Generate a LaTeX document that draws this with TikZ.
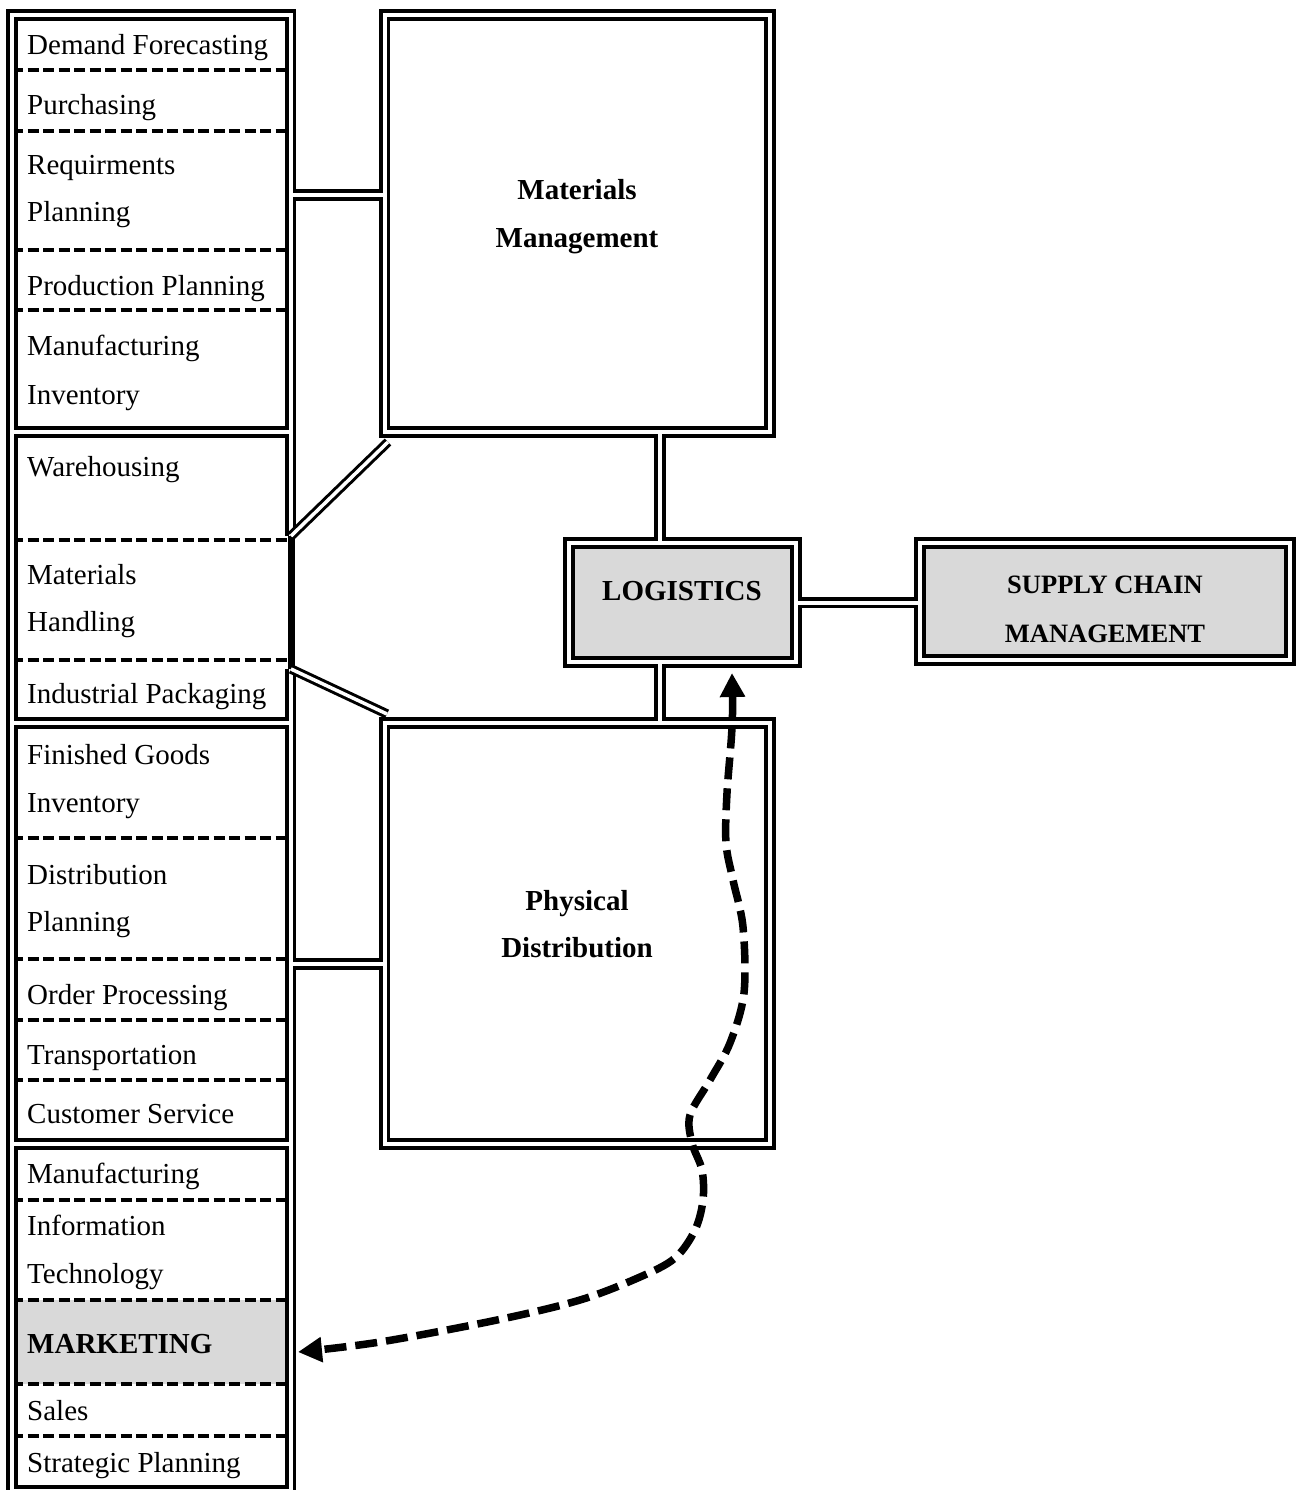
\documentclass[tikz,border=0pt]{standalone}
\usepackage{fontspec}
\setmainfont{Liberation Serif}
\usetikzlibrary{arrows.meta}
\definecolor{boxgray}{RGB}{217,217,217}
\begin{document}
\begin{tikzpicture}[x=1pt,y=-1pt,
  region/.style={rectangle, draw=none, inner sep=0pt, outer sep=0pt},
  frame/.style={draw=black, double=white, double distance=4pt, line width=3.8pt, line cap=butt},
  sepline/.style={draw=black, line width=3.5pt, dash pattern=on 11pt off 4.5pt},
  item/.style={anchor=base west, inner sep=0pt, font=\fontsize{29pt}{34pt}\selectfont},
  bitem/.style={item, font=\fontsize{29pt}{34pt}\selectfont\bfseries},
  head/.style={anchor=base, inner sep=0pt, font=\fontsize{29pt}{34pt}\selectfont\bfseries},
  shead/.style={anchor=base, inner sep=0pt, font=\fontsize{26.5pt}{31pt}\selectfont\bfseries},
  flow/.style={draw=black, line width=7.5pt, dash pattern=on 22pt off 9pt,
    {Triangle[length=24pt,width=24pt]}-{Triangle[length=24pt,width=24pt]}}
]
\useasboundingbox (0,0) rectangle (1295,1490);

% regions (boxes)
\node[region, minimum width=278.5pt, minimum height=1476pt] (col) at (151.25,753) {};
\node[region, minimum width=385.5pt, minimum height=417pt] (mm) at (577.25,223.5) {};
\node[region, minimum width=385.5pt, minimum height=421pt] (pd) at (577.25,933.5) {};
\node[region, minimum width=227pt, minimum height=119pt] (log) at (682.5,602.5) {};
\node[region, minimum width=370pt, minimum height=117pt] (scm) at (1105,601.5) {};

% fills
\fill[boxgray] (col.west |- 0,1300) rectangle (col.east |- 0,1384);
\fill[boxgray] (log.north west) rectangle (log.south east);
\fill[boxgray] (scm.north west) rectangle (scm.south east);

% dashed separators in the column
\foreach \yy in {70,131,250,310,540,660,838,959,1020,1080,1200,1300,1384,1436}
  \draw[sepline] (col.west |- 0,\yy) -- (col.east |- 0,\yy);

% double-line skeleton
\draw[frame]
  (col.east |- 0,536) -- (col.north east) -- (col.north west) -- (col.south west) -- (col.south east) -- (col.east |- 0,669)
  (col.west |- 0,432) -- (col.east |- 0,432)
  (col.west |- 0,723) -- (col.east |- 0,723)
  (col.west |- 0,1144) -- (col.east |- 0,1144)
  (mm.north west) rectangle (mm.south east)
  (pd.north west) rectangle (pd.south east)
  (log.north west) rectangle (log.south east)
  (scm.north west) rectangle (scm.south east)
  (col.east |- 0,195) -- (mm.west |- 0,195)
  (col.east |- 0,964) -- (pd.west |- 0,964)
  (log.north -| 660,0) -- (mm.south -| 660,0)
  (log.south -| 660,0) -- (pd.north -| 660,0)
  (log.east) -- (scm.west |- log.east);

% single thick part of column edge
\draw[line width=7pt] (291.5,536) -- (291.5,669);

% diagonal connectors
\coordinate (d1a) at (291,536);
\coordinate (d1b) at (388,442);
\coordinate (d2a) at (291,669);
\coordinate (d2b) at (387,714);
\draw[frame, line width=3pt, double distance=3.5pt] (d1a) -- (d1b);
\draw[frame, line width=3pt, double distance=3.5pt] (d2a) -- (d2b);

% column texts
\node[item] (t1) at (27,55) {Demand Forecasting};
\node[item] (t2) at (27,115) {Purchasing};
\node[item] (t3) at (27,175) {Requirments};
\node[item] (t4) at (27,222) {Planning};
\node[item] (t5) at (27,295) {Production Planning};
\node[item] (t6) at (27,355) {Manufacturing};
\node[item] (t7) at (27,404) {Inventory};
\node[item] (t8) at (27,476) {Warehousing};
\node[item] (t9) at (27,584) {Materials};
\node[item] (t10) at (27,631) {Handling};
\node[item] (t11) at (27,703) {Industrial Packaging};
\node[item] (t12) at (27,764) {Finished Goods};
\node[item] (t13) at (27,812) {Inventory};
\node[item] (t14) at (27,884) {Distribution};
\node[item] (t15) at (27,931) {Planning};
\node[item] (t16) at (27,1004) {Order Processing};
\node[item] (t17) at (27,1064) {Transportation};
\node[item] (t18) at (27,1123) {Customer Service};
\node[item] (t19) at (27,1183) {Manufacturing};
\node[item] (t20) at (27,1235) {Information};
\node[item] (t21) at (27,1283) {Technology};
\node[bitem] (t22) at (27,1353) {MARKETING};
\node[item] (t23) at (27,1420) {Sales};
\node[item] (t24) at (27,1472) {Strategic Planning};

% box texts
\node[head] (mm1) at (577,200) {Materials};
\node[head] (mm2) at (577,247) {Management};
\node[head] (pd1) at (577,910) {Physical};
\node[head] (pd2) at (577,957) {Distribution};
\node[head] (lg) at (682,600) {LOGISTICS};
\node[shead] (sc1) at (1105,593) {SUPPLY CHAIN};
\node[shead] (sc2) at (1105,642) {MANAGEMENT};

% curved dashed arrow
\coordinate (arrTop) at (732,673);
\coordinate (arrBot) at (298,1352);
\draw[flow] plot[smooth, tension=0.55] coordinates {(arrTop) (732,727) (727,793) (726,843) (733,880) (743,927) (744,993) (730,1043) (710,1080) (690,1115) (692,1143) (702,1170) (703,1200) (695,1230) (675,1258) (640,1277) (580,1300) (497,1320) (380,1342) (arrBot)};
\end{tikzpicture}
\end{document}
